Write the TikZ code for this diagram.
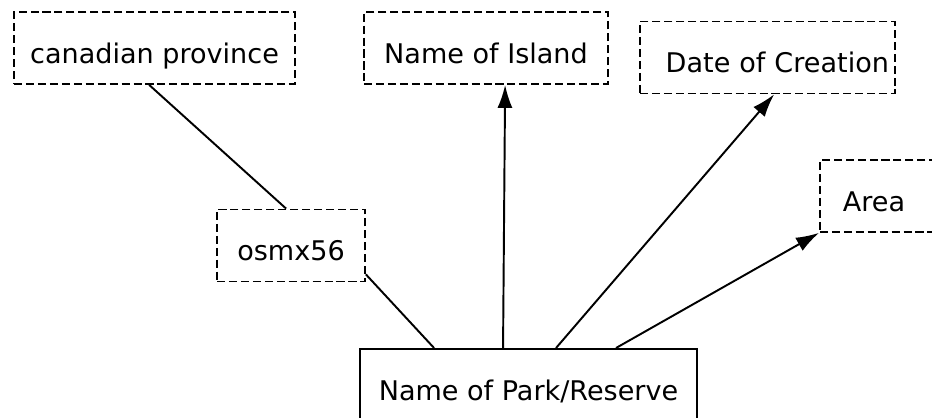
\documentclass[tikz,border=0pt]{standalone}
\usepackage{fontspec}
\setmainfont{DejaVu Sans}
\usetikzlibrary{arrows.meta}

\begin{document}
\begin{tikzpicture}[x=0.02cm,y=-0.02cm,>={Latex[length=4.6mm,width=3mm]},line width=1.1pt,font=\fontsize{15.4}{18}\selectfont,
 attr/.style={draw,dash pattern=on 4.6pt off 2.2pt,line width=1pt,minimum height=1.44cm,text height=0.62cm,text depth=0pt,inner sep=0pt},
 entity/.style={draw,line width=1.1pt,minimum height=1.44cm,text height=0.62cm,text depth=0pt,inner sep=0pt}]
\useasboundingbox (0,0) rectangle (932,418);
\node[attr,minimum width=5.62cm] (prov) at (154.5,48) {canadian province};
\node[attr,minimum width=4.88cm] (island) at (486,48) {Name of Island};
\node[attr,text width=4.86cm,align=right,inner xsep=0.12cm] (date) at (767.5,57.5) {Date of Creation};
\node[attr,minimum width=2.96cm] (osmx) at (291,245.5) {osmx56};
\node[attr,anchor=west,text width=3cm,inner xsep=0.46cm] (area) at (819,196) {Area};
\node[entity,minimum width=6.74cm,anchor=north] (park) at (528.5,348) {Name of Park/Reserve};
\draw ([xshift=2.72cm]prov.south west) -- ([xshift=1.4cm]osmx.north west);
\draw ([yshift=0.16cm]osmx.south east) -- ([xshift=1.5cm]park.north west);
\draw[->] ([xshift=2.88cm]park.north west) -- ([xshift=2.84cm]island.south west);
\draw[->] ([xshift=3.94cm]park.north west) -- ([xshift=2.7cm]date.south west);
\draw[->] ([xshift=5.14cm]park.north west) -- (area.south west);
\end{tikzpicture}
\end{document}
